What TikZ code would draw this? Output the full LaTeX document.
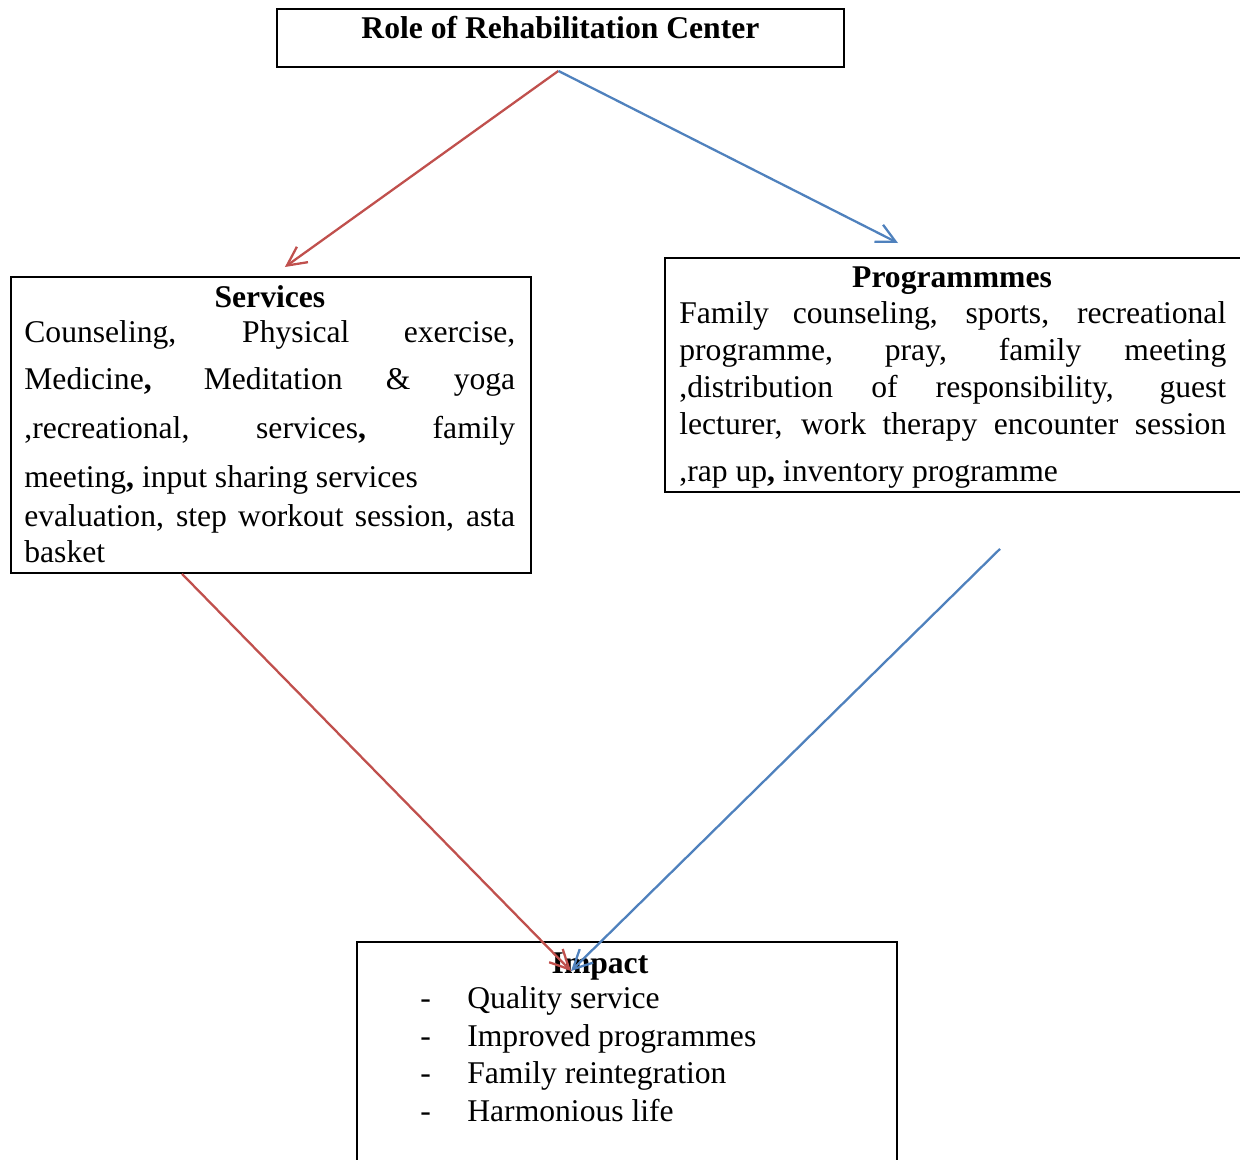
\documentclass[tikz,border=0pt]{standalone}
\usepackage{fontspec}
\setmainfont{Liberation Serif}
\usetikzlibrary{calc,
arrows.meta,
positioning}
\definecolor{srvred}{HTML}{C0504D}
\definecolor{prgblue}{HTML}{4F81BD}

\begin{document}
\begin{tikzpicture} [x=0.02cm, y=-0.02cm,
    every node/.style={font=\fontsize{18}{21}\selectfont, inner sep=0pt},
    main box/.style={rectangle, draw, line width=1.1pt, anchor=north west},
    head/.style={font=\fontsize{18}{21}\selectfont\bfseries, anchor=base},
    line/.style={anchor=base west},
    flow/.style={line width=1.3pt, -{Straight Barb[length=3.8mm, width=3.8mm]}}]

  \useasboundingbox (0, 0) rectangle (1240, 1159);

  % boxes
  \node [main box, minimum width = 11.34cm, minimum height = 1.16cm] (title) at (276, 8) {};
  \node [main box, minimum width = 10.4cm, minimum height = 5.92cm] (services) at (10, 276) {};
  \node [main box, minimum width = 12cm, minimum height = 4.68cm] (programmes) at (664, 257) {};
  \node [main box, minimum width = 10.8cm, minimum height = 4.8cm] (impact) at (356, 941) {};

  % headings
  \node [head] (title_txt) at ($(title.north) + (0, 31)$) {Role of Rehabilitation Center};
  \node [head] (services_txt) at ($(services.north) + (-1, 31)$) {Services};
  \node [head] (programmes_txt) at ($(programmes.north west) + (288, 30)$) {Programmmes};
  \node [head] (impact_txt) at ($(impact.north west) + (244, 32)$) {Impact};

  % services text
  \foreach \yy/\txt [count=\k] in {
      342/{\makebox[9.82cm][s]{Counseling, Physical exercise,}},
      389/{\makebox[9.82cm][s]{Medicine\textbf{,} Meditation \& yoga}},
      438/{\makebox[9.82cm][s]{,recreational, services\textbf{,} family}},
      487/{meeting\textbf{,} input sharing services},
      526/{\makebox[9.82cm][s]{evaluation, step workout session, asta}},
      562/{basket}}{
      \node [line] (srv\k) at (24, \yy) {\txt};
    }

  % programmes text
  \foreach \yy/\txt [count=\k] in {
      323/{\makebox[10.94cm][s]{Family counseling, sports, recreational}},
      360/{\makebox[10.94cm][s]{programme, pray, family meeting}},
      397/{\makebox[10.94cm][s]{,distribution of responsibility, guest}},
      434/{\makebox[10.94cm][s]{lecturer, work therapy encounter session}},
      481/{,rap up\textbf{,} inventory programme}}{
      \node [line] (prg\k) at (679, \yy) {\txt};
    }

  % impact list
  \foreach \yy/\txt [count=\k] in {
      1008/Quality service,
      1046/Improved programmes,
      1083/Family reintegration,
      1121/Harmonious life}{
      \node [line] (dash\k) at (420, \yy) {-};
      \node [line] (imp\k) at (467, \yy) {\txt};
    }

  % connector ends
  \coordinate (fork) at ($(title.south) + (-2, 3)$);
  \coordinate (srvtip) at ($(services.north) + (14, -9)$);
  \coordinate (prgtip) at ($(programmes.north west) + (234, -14)$);
  \coordinate (srvfoot) at ($(services.south west) + (172, 0)$);
  \coordinate (prgfoot) at ($(programmes.south west) + (336, 56)$);
  \coordinate (imptip) at ($(impact.north west) + (215, 30)$);

  \draw [flow, srvred] (fork) -- (srvtip);
  \draw [flow, prgblue] (fork) -- (prgtip);
  \draw [flow, srvred] (srvfoot) -- (imptip);
  \draw [flow, prgblue] (prgfoot) -- (imptip);

\end{tikzpicture}
\end{document}
